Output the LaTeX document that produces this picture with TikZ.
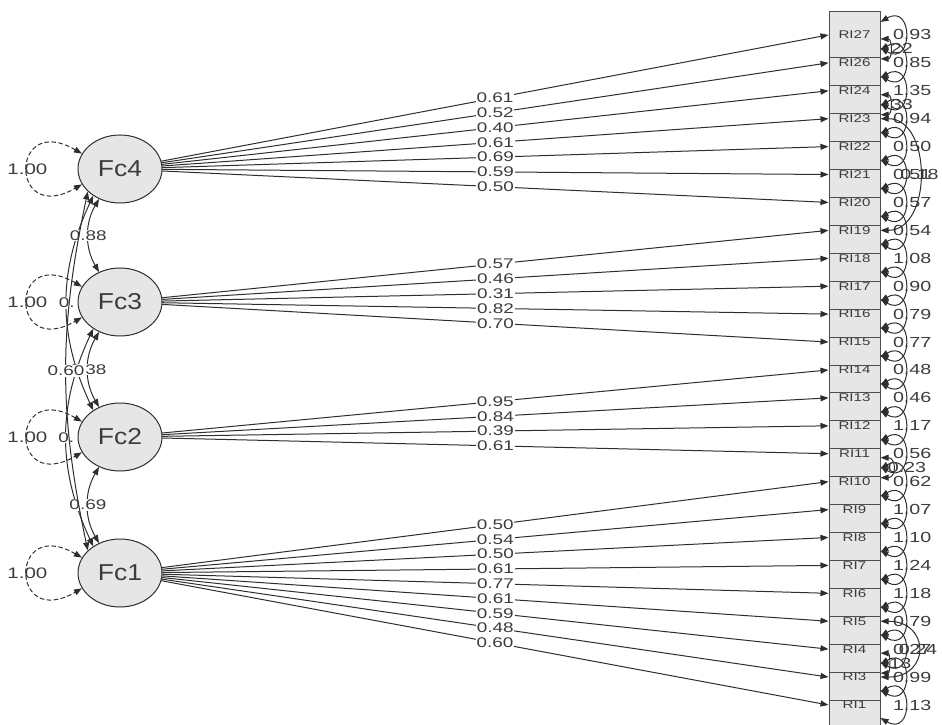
\documentclass[tikz,border=0pt]{standalone}
\usepackage{fontspec}
\setmainfont{Liberation Sans}
\newfontfamily\edgefont[FakeStretch=1.35]{Liberation Sans}
\newfontfamily\latfont[FakeStretch=1.15]{Liberation Sans}
\usetikzlibrary{shapes.geometric,arrows.meta}
\definecolor{semfill}{HTML}{E6E6E6}
\definecolor{semline}{HTML}{2E2E2E}
\definecolor{semtext}{HTML}{3C3C3C}
\tikzset{
 lat/.style={ellipse,draw=semline,fill=semfill,minimum width=42pt,minimum height=34pt,inner sep=0pt,
  font=\latfont\fontsize{11.5}{12}\selectfont,text=semtext},
 man/.style={rectangle,draw=semline!85,fill=semfill,minimum width=25.5pt,minimum height=23pt,inner sep=0pt,
  font=\edgefont\fontsize{5.6}{6}\selectfont,text=semtext},
 lab/.style={font=\edgefont\fontsize{7}{7}\selectfont,text=semtext,inner sep=0.4pt},
 wlab/.style={lab,fill=white},
 rlab/.style={lab,font=\edgefont\fontsize{7.3}{7.3}\selectfont},
 vlab/.style={lab,font=\edgefont\fontsize{7.6}{7.6}\selectfont},
}
\begin{document}
\begin{tikzpicture}[x=0.5pt,y=0.5pt,line width=0.5pt,color=semline,line join=round,line cap=round,>={Triangle[length=4pt,width=3pt]}]
 \useasboundingbox (0,0) rectangle (942,724);
 \node[lat] (Fc4) at (120,555) {Fc4};
 \node[lat] (Fc3) at (120,422) {Fc3};
 \node[lat] (Fc2) at (120,287) {Fc2};
 \node[lat] (Fc1) at (120,151) {Fc1};
 \foreach \i [count=\k from 0] in {1,3,4,5,6,7,8,9,10,11,12,13,14,15,16,17,18,19,20,21,22,23,24,26,27}
  \node[man] (RI\i) at (854.5,{19+27.92*\k}) {RI\i};
 \foreach \i/\f/\v in {27/Fc4/0.61,26/Fc4/0.52,24/Fc4/0.40,23/Fc4/0.61,22/Fc4/0.69,21/Fc4/0.59,20/Fc4/0.50,
  19/Fc3/0.57,18/Fc3/0.46,17/Fc3/0.31,16/Fc3/0.82,15/Fc3/0.70,
  14/Fc2/0.95,13/Fc2/0.84,12/Fc2/0.39,11/Fc2/0.61,
  10/Fc1/0.50,9/Fc1/0.54,8/Fc1/0.50,7/Fc1/0.61,6/Fc1/0.77,5/Fc1/0.61,4/Fc1/0.59,3/Fc1/0.48,1/Fc1/0.60}
  \draw[->] (\f) -- node[wlab]{\v} (RI\i.west);
 \foreach \f in {Fc1,Fc2,Fc3,Fc4}
  \draw[<->,dash pattern=on 2pt off 1.5pt] (\f.158) to[out=150,in=210,distance=42pt] node[vlab]{1.00} (\f.202);
 \draw[<->] (Fc4.225) to[bend right=25] node[wlab]{0.} (Fc2.135);
 \draw[<->] (Fc3.225) to[bend right=25] node[wlab]{0.} (Fc1.135);
 \draw[<->] (Fc4.235) to[bend right=30] node[wlab]{0.88} (Fc3.125);
 \draw[<->] (Fc3.235) to[bend right=30] node[wlab]{0.38} (Fc2.125);
 \draw[<->] (Fc2.235) to[bend right=30] node[wlab]{0.69} (Fc1.125);
 \draw[<->] (Fc4.215) to[bend right=12] node[wlab]{0.60} (Fc1.145);
 \foreach \i/\v in {27/0.93,26/0.85,24/1.35,23/0.94,22/0.50,21/0.51,20/0.57,19/0.54,18/1.08,17/0.90,16/0.79,
  15/0.77,14/0.48,13/0.46,12/1.17,11/0.56,10/0.62,9/1.07,8/1.10,7/1.24,6/1.18,5/0.79,4/0.27,3/0.99,1/1.13}
  \draw[<->] ([yshift=6.5pt]RI\i.east) to[out=30,in=-30,distance=19pt] node[rlab,xshift=3.5pt]{\v} ([yshift=-6.5pt]RI\i.east);
 \draw[<->] ([yshift=-2pt]RI27.east) to[out=0,in=0,distance=6pt] node[rlab,anchor=west]{22} ([yshift=2pt]RI26.east);
 \draw[<->] ([yshift=-2pt]RI24.east) to[out=0,in=0,distance=6pt] node[rlab,anchor=west]{33} ([yshift=2pt]RI23.east);
 \draw[<->] (RI23.east) to[out=0,in=0,distance=26pt] node[rlab]{0.18} (RI19.east);
 \draw[<->] ([yshift=-2pt]RI11.east) to[out=0,in=0,distance=8pt] node[rlab,anchor=west,xshift=-3pt]{0.23} ([yshift=2pt]RI10.east);
 \draw[<->] ([yshift=-2pt]RI4.east) to[out=0,in=0,distance=5pt] node[rlab,anchor=west]{13} ([yshift=2pt]RI3.east);
 \draw[<->] (RI5.east) to[out=0,in=0,distance=25pt] node[rlab]{0.24} (RI3.east);
\end{tikzpicture}
\end{document}
